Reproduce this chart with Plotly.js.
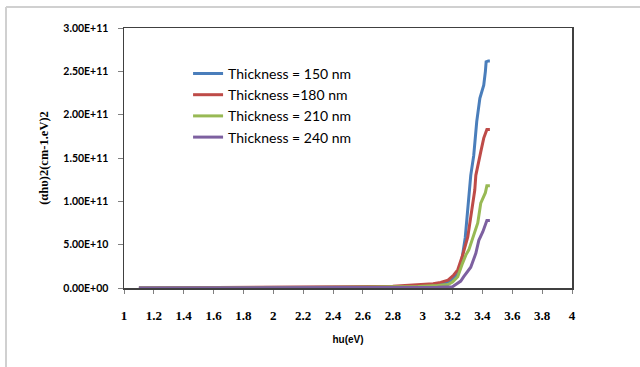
<!DOCTYPE html>
<html>
<head>
<meta charset="utf-8">
<script src="https://cdn.plot.ly/plotly-3.0.1.min.js"></script>
<style>html,body{margin:0;padding:0;background:#fff;}#chart{width:640px;height:367px;}</style>
</head>
<body>
<div id="chart"></div>
<script>
// Data
const seriesNames = ["Thickness = 150 nm", "Thickness =180 nm", "Thickness = 210 nm", "Thickness = 240 nm"];

const x150 = [1.1, 1.5, 2.0, 2.5, 2.8, 3.0, 3.1, 3.15, 3.19, 3.235, 3.262, 3.285, 3.302, 3.322, 3.342, 3.362, 3.383, 3.409, 3.42, 3.425, 3.44, 3.45];
const y150 = [0, 0, 2e8, 8e8, 1.2e9, 2.5e9, 4e9, 6e9, 8e9, 1.6e10, 3.2e10, 5.8e10, 8.8e10, 1.3e11, 1.53e11, 1.92e11, 2.19e11, 2.34e11, 2.5e11, 2.61e11, 2.62e11, 2.62e11];

const x180 = [1.1, 1.5, 2.0, 2.1, 2.5, 2.8, 2.97, 3.07, 3.12, 3.17, 3.208, 3.235, 3.268, 3.302, 3.329, 3.349, 3.356, 3.369, 3.389, 3.409, 3.42, 3.43, 3.45];
const y180 = [0, 2e8, 6e8, 1e9, 1.5e9, 2e9, 3.5e9, 5e9, 6.5e9, 9e9, 1.5e10, 2.1e10, 3.8e10, 5.9e10, 9e10, 1.13e11, 1.3e11, 1.42e11, 1.57e11, 1.73e11, 1.78e11, 1.83e11, 1.83e11];

const x210 = [1.1, 1.5, 2.0, 2.5, 2.8, 2.97, 3.1, 3.17, 3.2, 3.235, 3.268, 3.289, 3.309, 3.336, 3.369, 3.389, 3.409, 3.42, 3.43, 3.45];
const y210 = [0, 0, 3e8, 1e9, 1.4e9, 1.7e9, 3e9, 4e9, 7e9, 1.3e10, 2.9e10, 3.8e10, 4.4e10, 5.9e10, 7.5e10, 9.8e10, 1.05e11, 1.1e11, 1.18e11, 1.18e11];

const x240 = [1.1, 1.5, 2.0, 2.5, 2.8, 3.0, 3.1, 3.2, 3.235, 3.255, 3.275, 3.289, 3.322, 3.356, 3.376, 3.403, 3.42, 3.43, 3.45];
const y240 = [0, 0, 0, 2e8, 4e8, 6e8, 8e8, 1.5e9, 5.8e9, 8e9, 1.3e10, 1.6e10, 2.4e10, 4e10, 5.5e10, 6.5e10, 7.5e10, 7.8e10, 7.8e10];

const colors = ["#4a7ebb", "#be4b48", "#98b954", "#7d60a0"];
const xs = [x150, x180, x210, x240];
const ys = [y150, y180, y210, y240];

const xTickVals = [1, 1.2, 1.4, 1.6, 1.8, 2, 2.2, 2.4, 2.6, 2.8, 3, 3.2, 3.4, 3.6, 3.8, 4];
const xTickText = ["1", "1.2", "1.4", "1.6", "1.8", "2", "2.2", "2.4", "2.6", "2.8", "3", "3.2", "3.4", "3.6", "3.8", "4"];
const yTickVals = [0, 5e10, 1e11, 1.5e11, 2e11, 2.5e11, 3e11];
const yTickText = ["0.00E+00", "5.00E+10", "1.00E+11", "1.50E+11", "2.00E+11", "2.50E+11", "3.00E+11"];

const traces = seriesNames.map((n, i) => ({
  type: "scatter", mode: "lines", name: n,
  x: xs[i], y: ys[i],
  line: {color: colors[i], width: 3, shape: "linear"}
}));

const layout = {
  width: 640, height: 367,
  margin: {l: 124, r: 68, t: 28, b: 79},
  paper_bgcolor: "#fff", plot_bgcolor: "#fff",
  showlegend: true,
  legend: {
    x: 0.143, y: 0.885, xanchor: "left", yanchor: "top",
    bgcolor: "rgba(0,0,0,0)",
    font: {family: "Lato, 'Open Sans', sans-serif", size: 14, color: "#000"},
    itemwidth: 30, tracegroupgap: 0
  },
  xaxis: {
    range: [1, 4], tickmode: "array", tickvals: xTickVals, ticktext: xTickText,
    showgrid: false, zeroline: false,
    showline: true, linecolor: "#404040", linewidth: 1.5, mirror: true,
    ticks: "outside", ticklen: 4, tickcolor: "#808080",
    ticklabelstandoff: 11,
    tickfont: {family: "'Liberation Serif', 'Times New Roman', serif", size: 13, color: "#000", weight: "bold"},
    title: {text: "<b>hu(eV)</b>", font: {family: "'Liberation Sans', Arial, sans-serif", size: 10, color: "#000"}, standoff: 14}
  },
  yaxis: {
    range: [0, 3e11], tickmode: "array", tickvals: yTickVals, ticktext: yTickText,
    showgrid: false, zeroline: false,
    showline: true, linecolor: "#404040", linewidth: 1.5, mirror: true,
    ticks: "outside", ticklen: 5, tickcolor: "#808080",
    ticklabelstandoff: 7,
    tickfont: {family: "Lato, 'Liberation Sans', sans-serif", size: 10.5, color: "#000", weight: "bold"},
    title: {text: "<b>(αhυ)2(cm-1.eV)2</b>", font: {family: "'Liberation Serif', 'Times New Roman', serif", size: 12.5, color: "#000"}, standoff: 12}
  },
  shapes: [
    {type: "line", xref: "paper", yref: "paper", x0: -0.2634, x1: 1.2, y0: 1.0808, y1: 1.0808, line: {color: "#d0d0d0", width: 2}},
    {type: "line", xref: "paper", yref: "paper", x0: -0.2634, x1: -0.2634, y0: 1.0808, y1: -0.35, line: {color: "#d0d0d0", width: 2}}
  ]
};

Plotly.newPlot("chart", traces, layout, {displayModeBar: false, staticPlot: true});
</script>
</body>
</html>
